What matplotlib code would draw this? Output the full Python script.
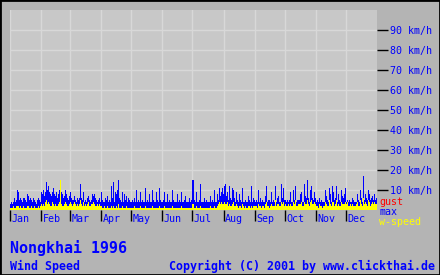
import matplotlib
matplotlib.use('Agg')
import matplotlib.pyplot as plt
import numpy as np
from matplotlib.patches import Rectangle
from matplotlib.transforms import blended_transform_factory

months = ['Jan', 'Feb', 'Mar', 'Apr', 'May', 'Jun',
          'Jul', 'Aug', 'Sep', 'Oct', 'Nov', 'Dec']
month_days = [31, 29, 31, 30, 31, 30, 31, 31, 30, 31, 30, 31]
y_ticks = [10, 20, 30, 40, 50, 60, 70, 80, 90]

# daily max wind (km/h), one row per month
max_kmh = [
    3, 4, 3, 4, 6, 4, 5, 10, 9, 5, 6, 5, 4, 6, 6, 5, 4, 8, 7, 5, 6, 5, 4, 6, 5, 4, 3, 5, 6, 5, 4,
    9, 8, 10, 7, 9, 14, 10, 12, 9, 8, 7, 9, 11, 8, 7, 9, 6, 8, 10, 6, 9, 8, 6, 7, 10, 8, 6, 5, 7,
    9, 6, 5, 5, 7, 5, 4, 6, 5, 6, 13, 6, 5, 9, 4, 5, 4, 6, 7, 5, 4, 5, 8, 7, 8, 6, 5, 4, 5, 6, 4,
    9, 5, 4, 4, 6, 5, 7, 4, 5, 4, 12, 6, 14, 4, 9, 8, 10, 15, 6, 5, 4, 9, 4, 8, 5, 7, 4, 6, 5, 4,
    4, 5, 4, 6, 4, 10, 4, 5, 4, 9, 4, 5, 4, 4, 11, 4, 5, 4, 8, 4, 4, 10, 5, 4, 4, 9, 5, 4, 11, 5, 4,
    4, 5, 9, 4, 4, 8, 4, 5, 4, 4, 10, 5, 4, 4, 4, 8, 4, 5, 4, 9, 4, 4, 5, 7, 4, 4, 4, 6, 4, 5,
    15, 5, 4, 9, 4, 4, 5, 13, 4, 4, 4, 6, 4, 5, 4, 4, 4, 7, 4, 5, 4, 10, 4, 4, 8, 5, 11, 7, 9, 11, 8,
    12, 13, 7, 9, 5, 12, 6, 5, 11, 10, 6, 4, 9, 5, 4, 8, 5, 4, 11, 4, 4, 5, 4, 4, 7, 5, 4, 12, 4, 6, 5,
    4, 5, 4, 10, 4, 6, 4, 5, 4, 4, 7, 12, 4, 5, 5, 4, 9, 4, 5, 4, 12, 4, 6, 7, 4, 4, 13, 6, 11, 5,
    5, 4, 5, 4, 5, 9, 4, 4, 10, 5, 12, 4, 5, 5, 5, 8, 9, 4, 4, 13, 7, 6, 15, 6, 4, 10, 12, 6, 5, 9, 6,
    4, 5, 4, 6, 4, 5, 4, 4, 4, 10, 7, 5, 4, 11, 8, 4, 12, 9, 5, 6, 12, 4, 8, 5, 4, 10, 7, 6, 8, 11,
    4, 5, 4, 5, 4, 4, 6, 5, 4, 4, 4, 8, 5, 4, 10, 6, 4, 17, 5, 8, 6, 5, 10, 8, 5, 6, 7, 5, 8, 5, 6,
]

# daily mean wind speed (km/h)
wind_kmh = [
    1, 1, 1, 2, 1, 1, 2, 2, 2, 1, 2, 1, 1, 2, 1, 1, 1, 2, 2, 1, 1, 2, 1, 1, 2, 1, 1, 1, 2, 1, 2,
    3, 2, 3, 2, 4, 5, 3, 4, 3, 2, 2, 4, 3, 2, 3, 2, 2, 3, 4, 15, 3, 2, 2, 3, 4, 3, 2, 2, 3,
    4, 3, 2, 3, 4, 3, 2, 3, 2, 3, 5, 3, 2, 4, 2, 3, 2, 3, 4, 2, 2, 3, 3, 4, 3, 2, 2, 3, 2, 3, 2,
    2, 1, 1, 2, 1, 1, 2, 1, 1, 1, 2, 1, 2, 1, 1, 2, 1, 3, 1, 1, 1, 2, 1, 1, 1, 2, 1, 1, 1, 1,
    1, 1, 1, 2, 1, 1, 1, 1, 1, 2, 1, 1, 1, 1, 2, 1, 1, 1, 1, 1, 1, 2, 1, 1, 1, 1, 1, 1, 2, 1, 1,
    1, 1, 2, 1, 1, 1, 1, 1, 1, 1, 2, 1, 1, 1, 1, 1, 1, 1, 1, 2, 1, 1, 1, 1, 1, 1, 1, 1, 1, 1,
    3, 1, 1, 2, 1, 1, 1, 2, 1, 1, 1, 1, 1, 1, 1, 1, 1, 2, 1, 1, 1, 2, 1, 1, 2, 3, 4, 3, 4, 3, 3,
    4, 3, 3, 4, 2, 3, 2, 2, 3, 4, 2, 2, 3, 2, 1, 2, 2, 1, 3, 2, 1, 2, 1, 1, 2, 2, 1, 2, 1, 2, 2,
    2, 2, 1, 3, 2, 2, 1, 2, 2, 1, 3, 4, 2, 2, 1, 2, 3, 2, 2, 2, 5, 2, 3, 3, 2, 2, 4, 3, 4, 2,
    3, 2, 2, 3, 2, 3, 2, 2, 4, 3, 5, 2, 2, 3, 3, 3, 4, 2, 2, 4, 3, 3, 5, 3, 2, 4, 5, 3, 3, 4, 3,
    2, 2, 1, 3, 2, 2, 1, 2, 2, 4, 3, 2, 2, 5, 3, 2, 4, 4, 2, 3, 5, 2, 3, 2, 2, 4, 3, 3, 3, 4,
    3, 4, 2, 2, 3, 2, 3, 2, 2, 2, 3, 4, 2, 2, 5, 3, 2, 6, 3, 4, 3, 2, 5, 4, 2, 3, 4, 3, 4, 3, 3,
]

BLUE = '#0000ff'
MONO = 'DejaVu Sans Mono'

n_days = sum(month_days)
days = np.arange(n_days)
month_start = np.concatenate([[0], np.cumsum(month_days)[:-1]])

W, H = 440, 275
fig = plt.figure(figsize=(W / 100, H / 100), dpi=100, facecolor='#b4b4b4')
ax = fig.add_axes([10 / W, 65 / H, 367 / W, 200 / H], facecolor='#c8c8c8')

ax.bar(days, max_kmh, width=1, align='edge', color=BLUE, linewidth=0,
       antialiased=False, zorder=3)
ax.bar(days, wind_kmh, width=1, align='edge', color='#ffff00', linewidth=0,
       antialiased=False, zorder=4)

ax.set_xlim(0, n_days)
ax.set_ylim(0, 100)
for s in ax.spines.values():
    s.set_visible(False)

ax.set_xticks(month_start)
ax.set_xticklabels([])
ax.tick_params(axis='x', length=8, width=1, color='black', direction='out')

ax.yaxis.tick_right()
ax.set_yticks(y_ticks)
ax.set_yticklabels([f'{v} km/h' for v in y_ticks], color=BLUE,
                   fontsize=7.2, family=MONO)
ax.tick_params(axis='y', length=8, width=1, pad=1, color='black')

ax.grid(True, color='#d8d8d8', linewidth=1)
ax.set_axisbelow(True)

tr = blended_transform_factory(ax.transData, ax.transAxes)
for start, name in zip(month_start, months):
    ax.text(start + 1.5, -0.045, name, transform=tr, ha='left', va='center',
            color=BLUE, fontsize=7.2, family=MONO)

# legend at the right of the plot
fig.text(379 / W, 1 - 202 / H, 'gust', color='#ff0000', fontsize=7.2,
         family=MONO, va='center')
fig.text(379 / W, 1 - 212 / H, 'max', color=BLUE, fontsize=7.2,
         family=MONO, va='center')
fig.text(379 / W, 1 - 222 / H, 'w-speed', color='#ffff00', fontsize=7.2,
         family=MONO, va='center')

fig.text(10 / W, 1 - 248 / H, 'Nongkhai 1996', color=BLUE, fontsize=10.8,
         family=MONO, weight='bold', va='center')
fig.text(10 / W, 1 - 266.5 / H, 'Wind Speed', color=BLUE, fontsize=8.4,
         family=MONO, weight='bold', va='center')
fig.text(435 / W, 1 - 266.5 / H, 'Copyright (C) 2001 by www.clickthai.de',
         color=BLUE, fontsize=8.4, family=MONO, weight='bold',
         va='center', ha='right')

fig.patches.append(Rectangle((0, 0), 1, 1, transform=fig.transFigure,
                             fill=False, edgecolor='black', linewidth=2))

fig.savefig('out.png', dpi=100, facecolor=fig.get_facecolor())
